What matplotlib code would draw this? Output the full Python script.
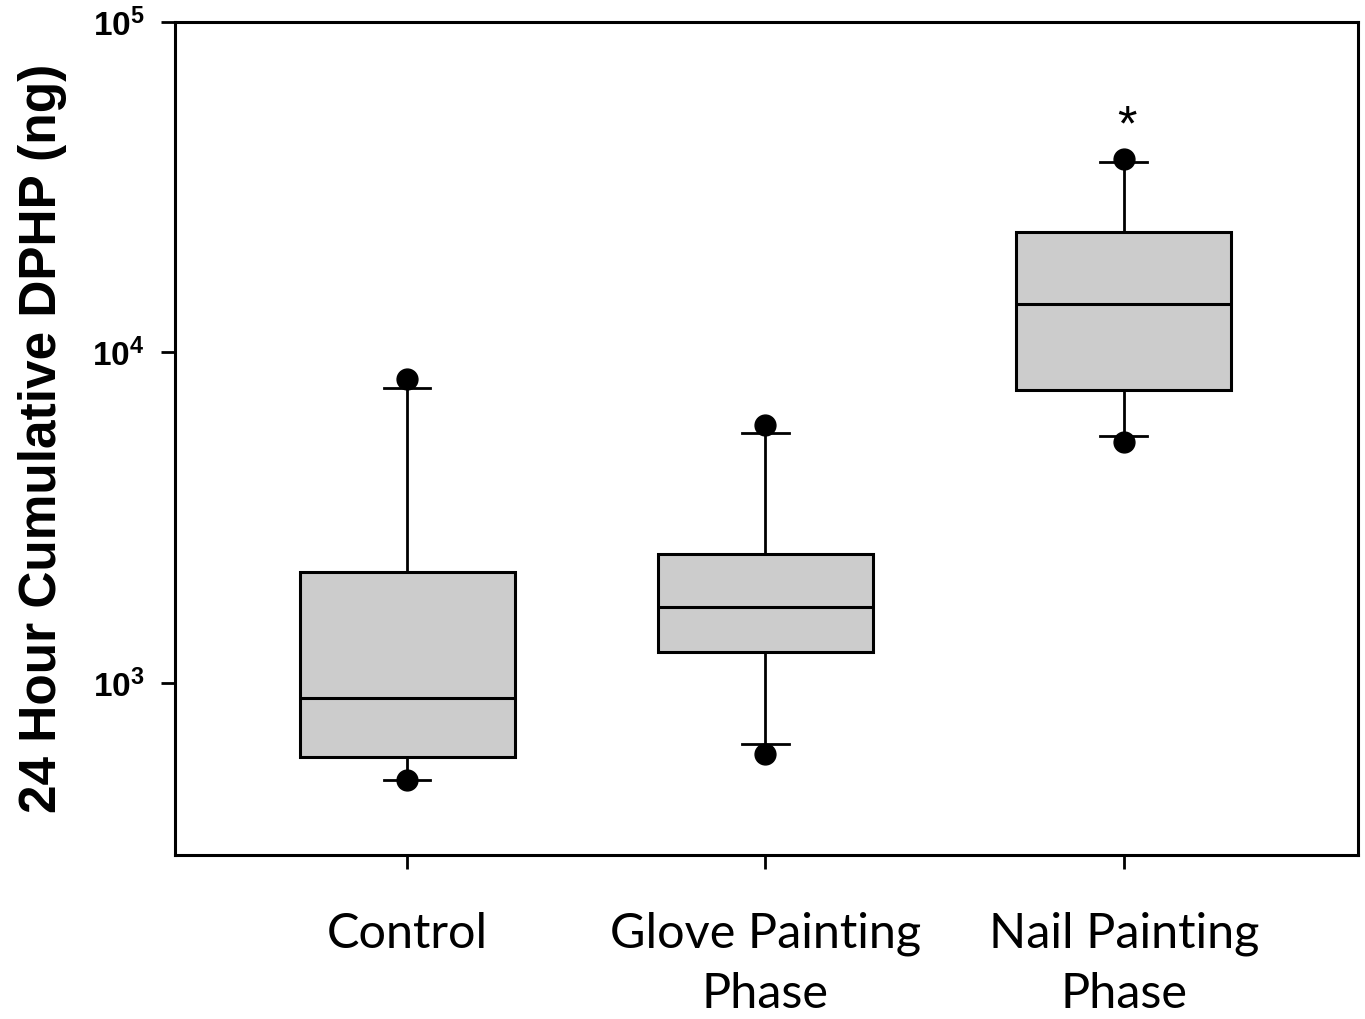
import matplotlib
matplotlib.use('Agg')
import matplotlib.pyplot as plt

groups = ['Control', 'Glove Painting\nPhase', 'Nail Painting\nPhase']
whisker_low = [509, 654, 5590]
q1 = [597, 1241, 7700]
median = [901, 1697, 14020]
q3 = [2167, 2456, 23150]
whisker_high = [7810, 5705, 37700]
outliers = [[509, 8320], [610, 6035], [5360, 38500]]

plt.rcParams['mathtext.fontset'] = 'custom'
plt.rcParams['mathtext.rm'] = 'Liberation Sans:bold'
plt.rcParams['mathtext.bf'] = 'Liberation Sans:bold'

fig = plt.figure(figsize=(13.65, 10.19), dpi=100)
ax = fig.add_axes([0.1282, 0.161, 0.8667, 0.8174])

stats = []
for i in range(len(groups)):
    stats.append({'whislo': whisker_low[i], 'q1': q1[i], 'med': median[i],
                  'q3': q3[i], 'whishi': whisker_high[i], 'fliers': outliers[i]})

positions = [1, 2, 3]
ax.bxp(stats, positions=positions, widths=0.6, capwidths=0.13, patch_artist=True,
       boxprops=dict(facecolor='#cccccc', edgecolor='black', linewidth=2.2),
       medianprops=dict(color='black', linewidth=2.2),
       whiskerprops=dict(color='black', linewidth=2),
       capprops=dict(color='black', linewidth=2),
       flierprops=dict(marker='o', markerfacecolor='black', markeredgecolor='black',
                       markersize=15, linestyle='none'))

ax.set_yscale('log')
ax.set_ylim(301.7, 1e5)
ax.set_xlim(0.352, 3.654)

ax.set_yticks([1e3, 1e4, 1e5])
ax.set_yticklabels([r'$\mathbf{10^3}$', r'$\mathbf{10^4}$', r'$\mathbf{10^5}$'])
ax.yaxis.set_minor_locator(matplotlib.ticker.NullLocator())
ax.set_xticks(positions)
ax.set_xticklabels(groups, fontsize=35, family='Lato', linespacing=1.42)
ax.tick_params(axis='both', direction='out', length=10, width=2)
ax.tick_params(axis='x', pad=31)
ax.tick_params(axis='y', pad=12, labelsize=24)

for s in ax.spines.values():
    s.set_linewidth(2.2)

ax.set_ylabel('24 Hour Cumulative DPHP (ng)', fontsize=37, fontweight='bold',
              family='Liberation Sans')
ax.yaxis.set_label_coords(-0.091, 0.5)

ax.text(3.01, 47900, '*', fontsize=36, ha='center', va='center', family='Liberation Sans')

fig.savefig('out.png', dpi=100)
